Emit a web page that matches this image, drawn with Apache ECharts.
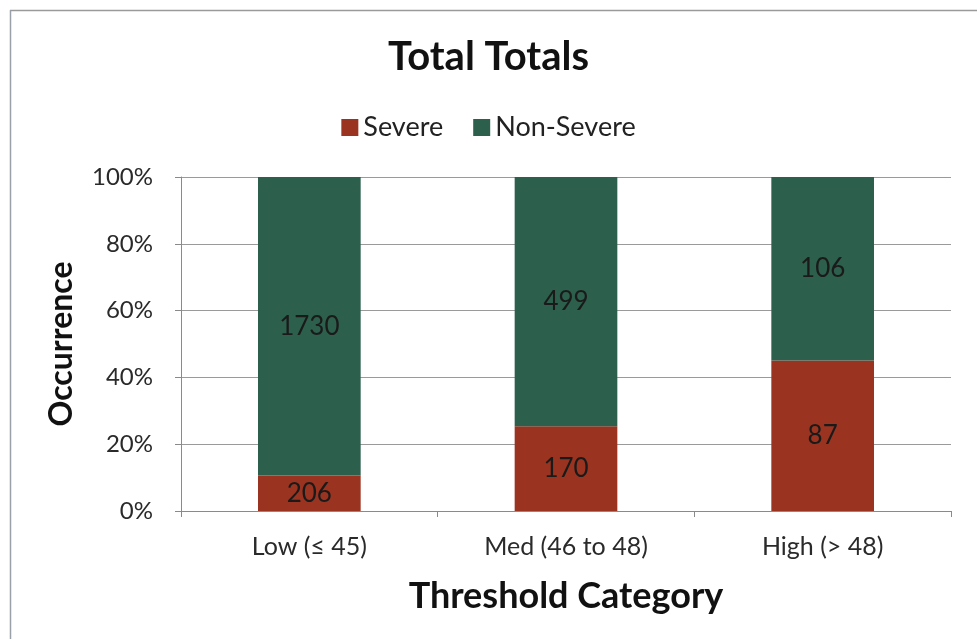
<!DOCTYPE html>
<html>
<head>
<meta charset="utf-8">
<script src="https://cdn.jsdelivr.net/npm/echarts@6/dist/echarts.min.js"></script>
<style>
  html, body { margin: 0; padding: 0; background: #ffffff; }
  #chart { width: 977px; height: 639px; }
</style>
</head>
<body>
<div id="chart"></div>
<script>
// Threshold categories and event counts per category
const categories = ['Low (\u2264 45)', 'Med (46 to 48)', 'High (> 48)'];
const severeCounts = [206, 170, 87];
const nonSevereCounts = [1730, 499, 106];
const yTickLabels = ['0%', '20%', '40%', '60%', '80%', '100%'];

// Each bar is stacked to 100%: the share of each class within its category
const totals = categories.map((_, i) => severeCounts[i] + nonSevereCounts[i]);
const severeShare = severeCounts.map((v, i) => v / totals[i] * 100);
const nonSevereShare = nonSevereCounts.map((v, i) => v / totals[i] * 100);

const FONT = 'Lato, "Open Sans", sans-serif';
const chart = echarts.init(document.getElementById('chart'), null, { renderer: 'canvas' });

const labelStyle = {
  show: true,
  position: 'inside',
  color: '#1a1a1a',
  fontFamily: FONT,
  fontSize: 26
};

chart.setOption({
  animation: false,
  backgroundColor: '#ffffff',
  title: {
    text: 'Total Totals',
    left: 'center',
    top: 32,
    textStyle: { fontFamily: FONT, fontWeight: 'bold', fontSize: 40, color: '#111111' }
  },
  legend: {
    data: ['Severe', 'Non-Severe'],
    left: 'center',
    top: 109,
    icon: 'rect',
    itemWidth: 17,
    itemHeight: 17,
    itemGap: 30,
    textStyle: { fontFamily: FONT, fontSize: 27, color: '#222222' }
  },
  grid: { left: 181, right: 26, top: 177, bottom: 128, containLabel: false },
  xAxis: {
    type: 'category',
    data: categories,
    name: 'Threshold Category',
    nameLocation: 'middle',
    nameGap: 67,
    nameTextStyle: { fontFamily: FONT, fontWeight: 'bold', fontSize: 36, color: '#111111' },
    axisLine: { lineStyle: { color: '#8a8a8a', width: 1 } },
    axisTick: { show: true, alignWithLabel: false, length: 6, lineStyle: { color: '#8a8a8a' } },
    axisLabel: { fontFamily: FONT, fontSize: 25, color: '#2a2a2a', margin: 23 }
  },
  yAxis: {
    type: 'value',
    min: 0,
    max: 100,
    interval: 20,
    name: 'Occurrence',
    nameLocation: 'middle',
    nameGap: 103,
    nameTextStyle: { fontFamily: FONT, fontWeight: 'bold', fontSize: 32, color: '#111111' },
    axisLine: { show: true, lineStyle: { color: '#8a8a8a', width: 1 } },
    axisTick: { show: true, length: 6, lineStyle: { color: '#8a8a8a' } },
    axisLabel: {
      fontFamily: FONT, fontSize: 24, color: '#2a2a2a', margin: 28,
      formatter: v => yTickLabels[Math.round(v / 20)]
    },
    splitLine: { show: true, lineStyle: { color: '#9a9a9a', width: 1 } }
  },
  series: [
    {
      name: 'Severe',
      type: 'bar',
      stack: 'share',
      barWidth: '40%',
      data: severeShare,
      itemStyle: { color: '#9a3420' },
      label: Object.assign({}, labelStyle, { formatter: p => String(severeCounts[p.dataIndex]) })
    },
    {
      name: 'Non-Severe',
      type: 'bar',
      stack: 'share',
      barWidth: '40%',
      data: nonSevereShare,
      itemStyle: { color: '#2d5f4d' },
      label: Object.assign({}, labelStyle, { formatter: p => String(nonSevereCounts[p.dataIndex]) })
    }
  ],
  graphic: [
    // chart area frame: top and left edges
    { type: 'line', shape: { x1: 10, y1: 10.5, x2: 977, y2: 10.5 }, style: { stroke: '#9a9a9a', lineWidth: 1.5 } },
    { type: 'line', shape: { x1: 10.5, y1: 10, x2: 10.5, y2: 639 }, style: { stroke: '#9aa0aa', lineWidth: 1.5 } }
  ]
});
</script>
</body>
</html>
